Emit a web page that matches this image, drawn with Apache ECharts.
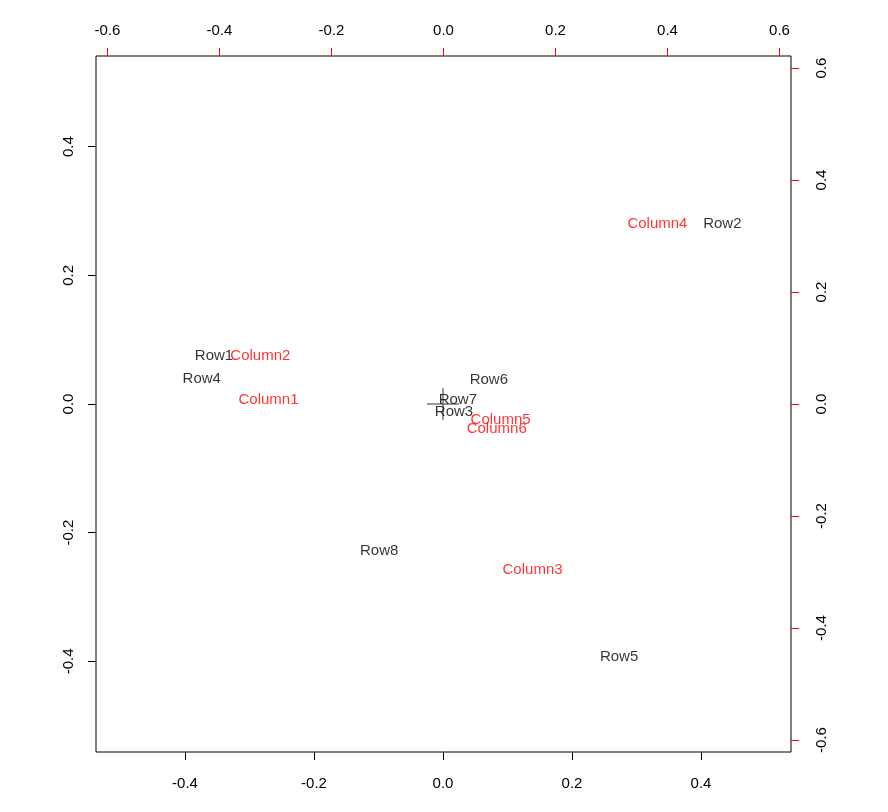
<!DOCTYPE html>
<html>
<head>
<meta charset="utf-8">
<script src="https://cdn.jsdelivr.net/npm/echarts@6/dist/echarts.min.js"></script>
<style>
  html, body { margin: 0; padding: 0; background: #fff; }
  #chart { width: 888px; height: 812px; }
</style>
</head>
<body>
<div id="chart"></div>
<script>
// row scores (bottom / left axes)
const rowNames = ['Row1', 'Row2', 'Row3', 'Row4', 'Row5', 'Row6', 'Row7', 'Row8'];
const rowX = [-0.355, 0.433, 0.017, -0.374, 0.273, 0.071, 0.023, -0.099];
const rowY = [0.078, 0.283, -0.009, 0.042, -0.390, 0.041, 0.010, -0.225];

// column scores (top / right axes)
const colNames = ['Column1', 'Column2', 'Column3', 'Column4', 'Column5', 'Column6'];
const colX = [-0.3125, -0.327, 0.159, 0.382, 0.102, 0.095];
const colY = [0.011, 0.089, -0.293, 0.325, -0.025, -0.041];

// tick values
const primaryTicks = [-0.4, -0.2, 0.0, 0.2, 0.4];
const secondaryTicks = [-0.6, -0.4, -0.2, 0.0, 0.2, 0.4, 0.6];

const FONT = 'Liberation Sans, Arial, sans-serif';

function toPoints(names, xs, ys) {
    let tempArray = []
    for (let i = 0; i < names.length; i++) {
        tempArray.push({ name: names[i], value: [xs[i], ys[i]] })
    }
    return tempArray
}

function axisCommon(ticks, tickColor, rotate, margin) {
    return {
        type: 'value',
        axisLine: { show: false, onZero: false },
        splitLine: { show: false },
        axisTick: {
            show: true,
            length: 8,
            customValues: ticks,
            lineStyle: { color: tickColor, width: 1 }
        },
        axisLabel: {
            customValues: ticks,
            rotate: rotate,
            margin: margin,
            color: '#000',
            fontSize: 15,
            fontFamily: FONT,
            formatter: v => v.toFixed(1)
        }
    }
}

let chartDom = document.getElementById('chart');
let myChart = echarts.init(chartDom);
let option;

option = {
    animation: false,
    grid: {
        left: 96, right: 97, top: 56, bottom: 60,
        show: true,
        borderColor: '#000',
        borderWidth: 1,
        backgroundColor: 'transparent'
    },
    xAxis: [
        Object.assign(axisCommon(primaryTicks, '#000', 0, 24), { position: 'bottom', min: -0.538, max: 0.5395 }),
        Object.assign(axisCommon(secondaryTicks, '#ff0000', 0, 18), { position: 'top', min: -0.6205, max: 0.6205 })
    ],
    yAxis: [
        Object.assign(axisCommon(primaryTicks, '#000', 90, 20), { position: 'left', min: -0.541, max: 0.541 }),
        Object.assign(axisCommon(secondaryTicks, '#ff0000', 90, 23), { position: 'right', min: -0.6214, max: 0.6214 })
    ],
    series: [
        {
            name: 'rows',
            type: 'scatter',
            xAxisIndex: 0,
            yAxisIndex: 0,
            silent: true,
            symbolSize: 1,
            itemStyle: { color: 'transparent' },
            label: {
                show: true,
                position: 'inside',
                offset: [0, 2],
                formatter: p => p.name,
                color: '#000',
                fontSize: 15,
                fontFamily: FONT
            },
            data: toPoints(rowNames, rowX, rowY)
        },
        {
            name: 'columns',
            type: 'scatter',
            xAxisIndex: 1,
            yAxisIndex: 1,
            silent: true,
            symbolSize: 1,
            itemStyle: { color: 'transparent' },
            label: {
                show: true,
                position: 'inside',
                offset: [0, 2],
                formatter: p => p.name,
                color: '#ff0000',
                fontSize: 15,
                fontFamily: FONT
            },
            data: toPoints(colNames, colX, colY)
        },
        {
            // origin cross
            name: 'origin',
            type: 'scatter',
            xAxisIndex: 0,
            yAxisIndex: 0,
            silent: true,
            symbol: 'path://M15.5,0h1v32h-1zM0,15.5h32v1h-32z',
            symbolSize: [32, 32],
            itemStyle: { color: '#000' },
            data: [[0, 0]]
        }
    ]
};

option && myChart.setOption(option);
</script>
</body>
</html>
